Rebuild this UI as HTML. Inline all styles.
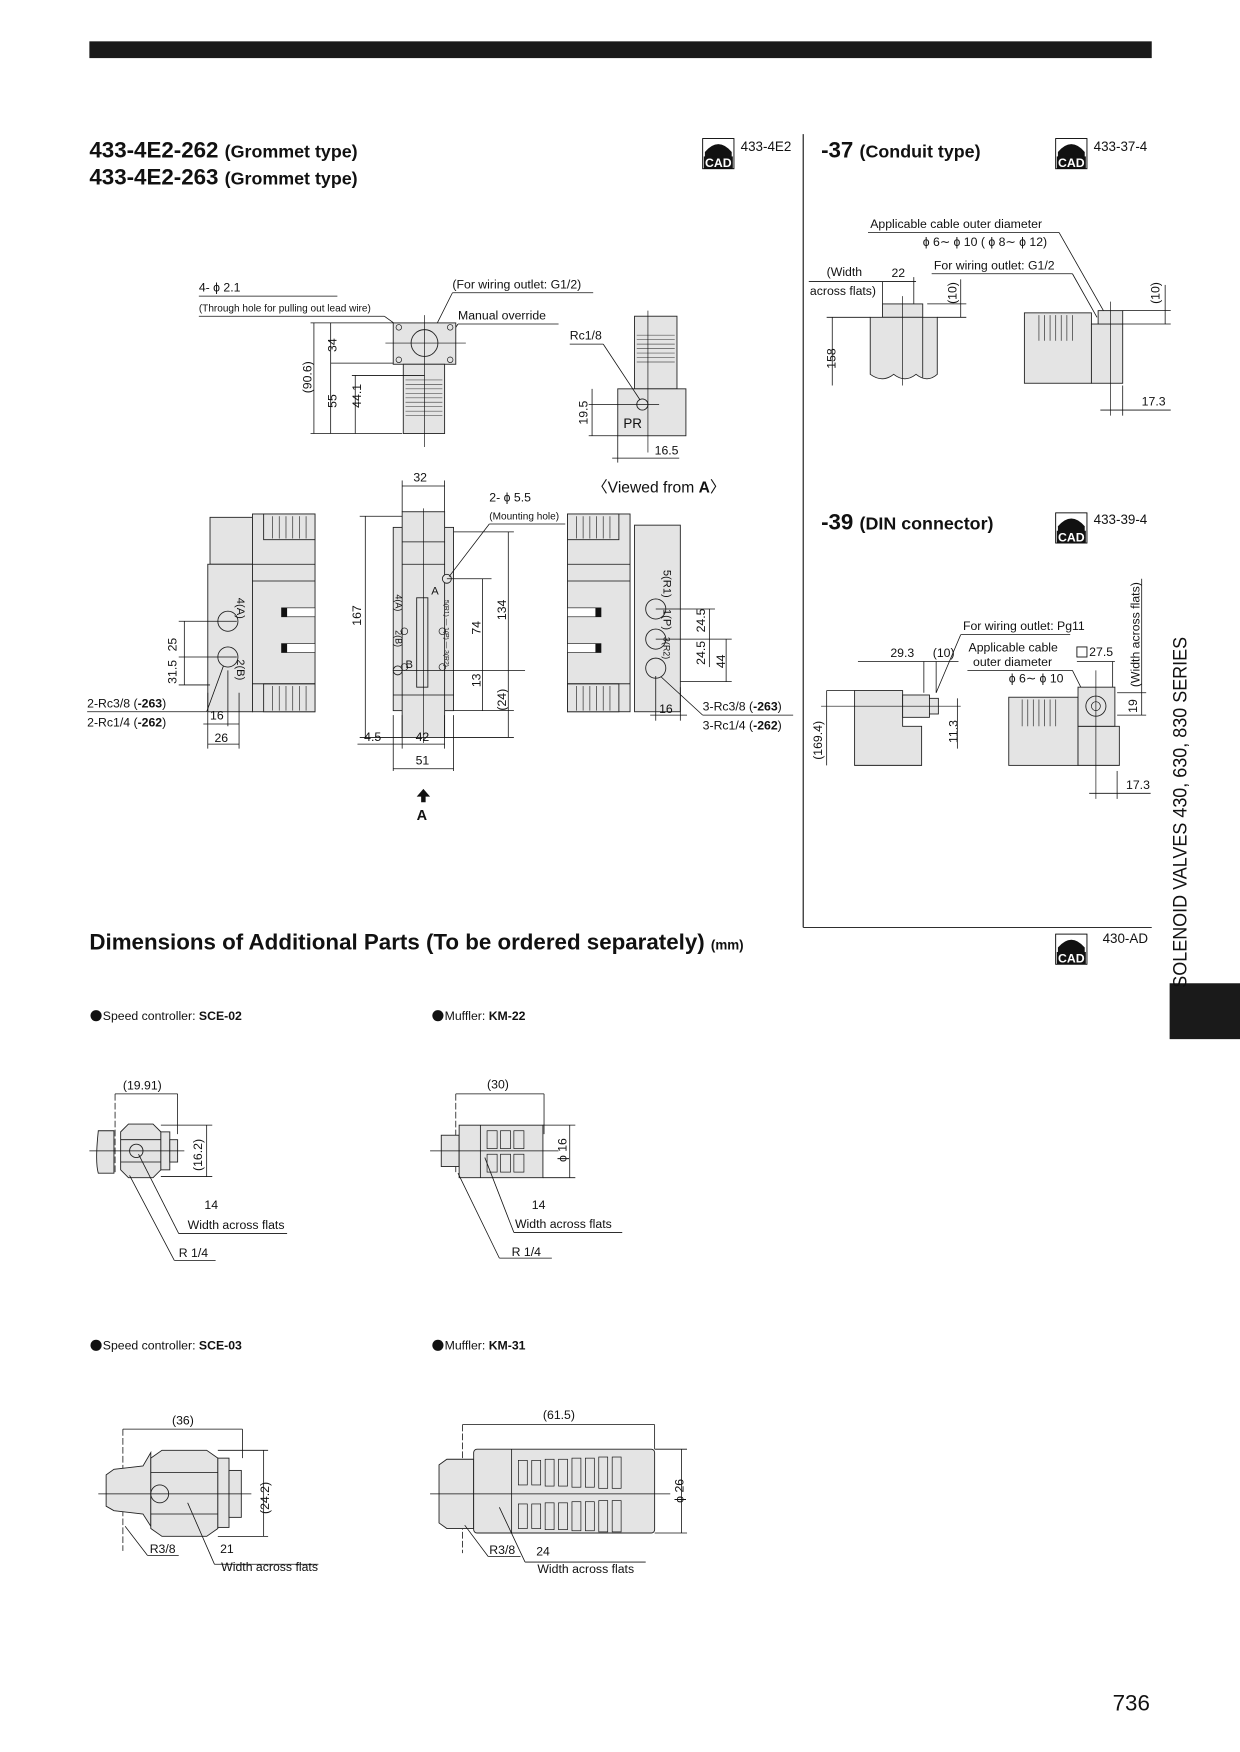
<!DOCTYPE html>
<html><head><meta charset="utf-8"><style>
html,body{margin:0;padding:0;background:#fff}
svg{display:block}
text{font-family:"Liberation Sans",sans-serif;fill:#111}
.b{font-weight:bold}
.s{font-size:11px}
.g{fill:#e4e4e4;stroke:#222;stroke-width:0.8}
.l{stroke:#111;stroke-width:0.7;fill:none}
.c{stroke:#111;stroke-width:0.6;fill:none}
</style></head><body>
<svg width="1240" height="1752" viewBox="0 0 1110 1568" preserveAspectRatio="none" xmlns="http://www.w3.org/2000/svg">
<defs>
<g id="cad"><rect x="0" y="0" width="28" height="27" fill="#fff" stroke="#000" stroke-width="0.8"/><path d="M2,18 L2,12 Q14,-2 26,12 L26,18 Z" fill="#111"/><rect x="1" y="16" width="26" height="11" fill="#111"/><text x="14" y="25.5" font-size="11" text-anchor="middle" font-weight="bold" style="fill:#fff">CAD</text></g>
</defs>
<rect x="80" y="37" width="951" height="15" fill="#1a1a1a"/>
<line x1="719" y1="120" x2="719" y2="830" stroke="#111" stroke-width="1"/>
<line x1="719" y1="830" x2="1031" y2="830" stroke="#111" stroke-width="0.8"/>
<rect x="1047" y="880" width="63" height="50" fill="#1a1a1a"/>
<text transform="translate(1062,884) rotate(-90)" font-size="17" textLength="314" lengthAdjust="spacingAndGlyphs">SOLENOID VALVES 430, 630, 830 SERIES</text>
<text x="996" y="1531" font-size="20">736</text>

<text x="80" y="141" font-size="20" class="b">433-4E2-262 <tspan font-size="16">(Grommet type)</tspan></text>
<text x="80" y="165" font-size="20" class="b">433-4E2-263 <tspan font-size="16">(Grommet type)</tspan></text>
<use href="#cad" x="629" y="124"/><text x="663" y="135" font-size="12">433-4E2</text>
<text x="735" y="141" font-size="20" class="b">-37 <tspan font-size="16">(Conduit type)</tspan></text>
<use href="#cad" x="945" y="124"/><text x="979" y="135" font-size="12">433-37-4</text>
<text x="735" y="474" font-size="20" class="b">-39 <tspan font-size="16">(DIN connector)</tspan></text>
<use href="#cad" x="945" y="459"/><text x="979" y="469" font-size="12">433-39-4</text>
<text x="80" y="850" font-size="20" class="b">Dimensions of Additional Parts (To be ordered separately) <tspan font-size="12">(mm)</tspan></text>
<use href="#cad" x="945" y="836"/><text x="987" y="844" font-size="12">430-AD</text>

<!-- top view -->
<text x="178" y="261" class="s">4- ϕ 2.1</text>
<text x="178" y="279" font-size="9">(Through hole for pulling out lead wire)</text>
<line x1="178" y1="265" x2="302" y2="265" class="l"/><line x1="178" y1="283" x2="344" y2="283" class="l"/>
<line x1="344" y1="283" x2="372" y2="303" class="l"/>
<text x="405" y="258" class="s">(For wiring outlet: G1/2)</text><line x1="405" y1="262" x2="531" y2="262" class="l"/><line x1="405" y1="262" x2="388" y2="296" class="l"/>
<text x="410" y="286" class="s">Manual override</text><line x1="410" y1="290" x2="500" y2="290" class="l"/><line x1="410" y1="290" x2="383" y2="330" class="l"/>
<rect x="352" y="289" width="56" height="37" class="g"/>
<circle cx="380" cy="307" r="12" class="g"/>
<circle cx="357" cy="293" r="2.5" class="c"/><circle cx="403" cy="293" r="2.5" class="c"/><circle cx="357" cy="322" r="2.5" class="c"/><circle cx="403" cy="322" r="2.5" class="c"/>
<rect x="361" y="326" width="37" height="62" class="g"/>
<g stroke="#555" stroke-width="0.6"><line x1="363" y1="340" x2="396" y2="340"/><line x1="363" y1="344" x2="396" y2="344"/><line x1="363" y1="348" x2="396" y2="348"/><line x1="363" y1="352" x2="396" y2="352"/><line x1="363" y1="356" x2="396" y2="356"/><line x1="363" y1="360" x2="396" y2="360"/><line x1="363" y1="364" x2="396" y2="364"/><line x1="363" y1="368" x2="396" y2="368"/><line x1="363" y1="372" x2="396" y2="372"/></g>
<line x1="380" y1="282" x2="380" y2="400" class="c"/><line x1="345" y1="307" x2="417" y2="307" class="c"/>
<line x1="281" y1="289" x2="281" y2="388" class="l"/><line x1="296" y1="289" x2="296" y2="388" class="l"/><line x1="318" y1="336" x2="318" y2="388" class="l"/>
<line x1="278" y1="289" x2="352" y2="289" class="l"/><line x1="278" y1="388" x2="360" y2="388" class="l"/><line x1="296" y1="325" x2="352" y2="325" class="l"/><line x1="315" y1="336" x2="380" y2="336" class="l"/>
<text transform="translate(279,352) rotate(-90)" class="s">(90.6)</text>
<text transform="translate(301,315) rotate(-90)" class="s">34</text>
<text transform="translate(301,365) rotate(-90)" class="s">55</text>
<text transform="translate(323,365) rotate(-90)" class="s">44.1</text>

<!-- side view PR -->
<rect x="568" y="283" width="38" height="65" class="g"/>
<g stroke="#555" stroke-width="0.6"><line x1="570" y1="300" x2="604" y2="300"/><line x1="570" y1="304" x2="604" y2="304"/><line x1="570" y1="308" x2="604" y2="308"/><line x1="570" y1="312" x2="604" y2="312"/><line x1="570" y1="316" x2="604" y2="316"/><line x1="570" y1="320" x2="604" y2="320"/><line x1="570" y1="324" x2="604" y2="324"/></g>
<rect x="553" y="348" width="61" height="42" class="g"/>
<circle cx="575" cy="362" r="5" class="g"/>
<text x="558" y="383" font-size="12">PR</text>
<line x1="580" y1="278" x2="580" y2="405" class="c"/><line x1="527" y1="362" x2="590" y2="362" class="c"/>
<text x="510" y="304" class="s">Rc1/8</text><line x1="510" y1="308" x2="540" y2="308" class="l"/><line x1="540" y1="308" x2="573" y2="358" class="l"/>
<line x1="530" y1="348" x2="530" y2="390" class="l"/><line x1="527" y1="390" x2="553" y2="390" class="l"/>
<text transform="translate(526,380) rotate(-90)" class="s">19.5</text>
<line x1="548" y1="410" x2="608" y2="410" class="l"/><line x1="553" y1="390" x2="553" y2="414" class="l"/>
<text x="586" y="407" class="s">16.5</text>
<text x="530" y="441" font-size="14">〈Viewed from <tspan class="b">A</tspan>〉</text>

<!-- left front view -->
<rect x="188" y="463" width="38" height="42" class="g"/>
<rect x="186" y="505" width="40" height="132" class="g"/>
<rect x="226" y="460" width="56" height="177" class="g"/>
<rect x="236" y="460" width="46" height="23" class="g"/><rect x="236" y="612" width="46" height="25" class="g"/>
<g stroke="#444" stroke-width="0.7"><line x1="244" y1="462" x2="244" y2="482"/><line x1="250" y1="462" x2="250" y2="482"/><line x1="256" y1="462" x2="256" y2="482"/><line x1="262" y1="462" x2="262" y2="482"/><line x1="268" y1="462" x2="268" y2="482"/><line x1="274" y1="462" x2="274" y2="482"/><line x1="244" y1="614" x2="244" y2="636"/><line x1="250" y1="614" x2="250" y2="636"/><line x1="256" y1="614" x2="256" y2="636"/><line x1="262" y1="614" x2="262" y2="636"/><line x1="268" y1="614" x2="268" y2="636"/><line x1="274" y1="614" x2="274" y2="636"/></g>
<line x1="226" y1="505" x2="282" y2="505" class="l"/><line x1="226" y1="520" x2="282" y2="520" class="l"/><line x1="226" y1="612" x2="282" y2="612" class="l"/>
<rect x="252" y="544" width="30" height="8" fill="#fff" stroke="#222" stroke-width="0.6"/><rect x="252" y="544" width="5" height="8" fill="#111"/>
<rect x="252" y="576" width="30" height="8" fill="#fff" stroke="#222" stroke-width="0.6"/><rect x="252" y="576" width="5" height="8" fill="#111"/>
<circle cx="204" cy="556" r="9" class="g" stroke-width="1.3"/><circle cx="204" cy="588" r="9" class="g" stroke-width="1.3"/>
<text transform="translate(212,535) rotate(90)" font-size="10">4(A)</text>
<text transform="translate(212,590) rotate(90)" font-size="10">2(B)</text>
<line x1="160" y1="556" x2="212" y2="556" class="l"/><line x1="160" y1="588" x2="212" y2="588" class="l"/><line x1="160" y1="613" x2="188" y2="613" class="l"/>
<line x1="165" y1="556" x2="165" y2="613" class="l"/>
<text transform="translate(158,583) rotate(-90)" class="s">25</text>
<text transform="translate(158,612) rotate(-90)" class="s">31.5</text>
<text x="78" y="633" class="s">2-Rc3/8 (<tspan class="b">-263</tspan>)</text><line x1="78" y1="637" x2="185" y2="637" class="l"/><line x1="185" y1="637" x2="200" y2="596" class="l"/>
<text x="78" y="650" class="s">2-Rc1/4 (<tspan class="b">-262</tspan>)</text>
<line x1="186" y1="620" x2="186" y2="670" class="l"/><line x1="204" y1="600" x2="204" y2="650" class="l"/><line x1="214" y1="620" x2="214" y2="670" class="l"/>
<line x1="182" y1="648" x2="214" y2="648" class="l"/><text x="188" y="644" class="s">16</text>
<line x1="186" y1="666" x2="214" y2="666" class="l"/><text x="192" y="664" class="s">26</text>

<!-- center view -->
<rect x="352" y="472" width="54" height="164" class="g"/>
<rect x="360" y="458" width="38" height="202" class="g"/>
<line x1="360" y1="485" x2="398" y2="485" class="l"/><line x1="360" y1="505" x2="398" y2="505" class="l"/><line x1="352" y1="622" x2="406" y2="622" class="l"/>
<rect x="373" y="535" width="10" height="80" class="g"/>
<circle cx="362" cy="565" r="3" class="c"/><circle cx="396" cy="565" r="3" class="c"/><circle cx="362" cy="597" r="3" class="c"/><circle cx="396" cy="597" r="3" class="c"/>
<circle cx="400" cy="518" r="4" class="g"/><circle cx="356" cy="600" r="4" class="g"/>
<text x="386" y="532" font-size="10">A</text><text x="363" y="598" font-size="10">B</text>
<text transform="translate(354,532) rotate(90)" font-size="8">4(A)</text><text transform="translate(354,564) rotate(90)" font-size="8">2(B)</text>
<text transform="translate(398,537) rotate(90)" font-size="6">5(R1) — 1(P) — 3(R2)</text>
<line x1="379" y1="455" x2="379" y2="665" class="c"/>
<line x1="360" y1="430" x2="360" y2="458" class="l"/><line x1="398" y1="430" x2="398" y2="458" class="l"/><line x1="360" y1="435" x2="398" y2="435" class="l"/><text x="370" y="431" class="s">32</text>
<line x1="322" y1="462" x2="360" y2="462" class="l"/><line x1="322" y1="660" x2="360" y2="660" class="l"/><line x1="327" y1="462" x2="327" y2="660" class="l"/>
<text transform="translate(323,560) rotate(-90)" class="s">167</text>
<text x="438" y="449" class="s">2- ϕ 5.5</text><text x="438" y="465" font-size="9">(Mounting hole)</text>
<line x1="438" y1="469" x2="506" y2="469" class="l"/><line x1="438" y1="469" x2="402" y2="516" class="l"/>
<line x1="400" y1="518" x2="440" y2="518" class="l"/><line x1="352" y1="600" x2="470" y2="600" class="l"/>
<line x1="432" y1="518" x2="432" y2="600" class="l"/><text transform="translate(430,568) rotate(-90)" class="s">74</text>
<line x1="406" y1="476" x2="460" y2="476" class="l"/><line x1="406" y1="636" x2="460" y2="636" class="l"/><line x1="455" y1="476" x2="455" y2="660" class="l"/>
<text transform="translate(453,555) rotate(-90)" class="s">134</text>
<line x1="432" y1="600" x2="432" y2="636" class="l"/><text transform="translate(430,615) rotate(-90)" class="s">13</text>
<line x1="398" y1="660" x2="460" y2="660" class="l"/><text transform="translate(453,636) rotate(-90)" class="s">(24)</text>
<line x1="352" y1="640" x2="352" y2="690" class="l"/><line x1="360" y1="640" x2="360" y2="670" class="l"/><line x1="406" y1="640" x2="406" y2="690" class="l"/><line x1="398" y1="640" x2="398" y2="670" class="l"/>
<line x1="320" y1="666" x2="360" y2="666" class="l"/><text x="326" y="663" class="s">4.5</text>
<line x1="360" y1="666" x2="398" y2="666" class="l"/><text x="372" y="663" class="s">42</text>
<line x1="352" y1="688" x2="406" y2="688" class="l"/><text x="372" y="684" class="s">51</text>
<path d="M379,706 L385,713 L381,713 L381,718 L377,718 L377,713 L373,713 Z" fill="#111"/>
<text x="373" y="734" font-size="13" class="b">A</text>

<!-- right view -->
<rect x="508" y="460" width="56" height="177" class="g"/>
<rect x="508" y="460" width="46" height="23" class="g"/><rect x="508" y="612" width="46" height="25" class="g"/>
<g stroke="#444" stroke-width="0.7"><line x1="516" y1="462" x2="516" y2="482"/><line x1="522" y1="462" x2="522" y2="482"/><line x1="528" y1="462" x2="528" y2="482"/><line x1="534" y1="462" x2="534" y2="482"/><line x1="540" y1="462" x2="540" y2="482"/><line x1="546" y1="462" x2="546" y2="482"/><line x1="516" y1="614" x2="516" y2="636"/><line x1="522" y1="614" x2="522" y2="636"/><line x1="528" y1="614" x2="528" y2="636"/><line x1="534" y1="614" x2="534" y2="636"/><line x1="540" y1="614" x2="540" y2="636"/><line x1="546" y1="614" x2="546" y2="636"/></g>
<line x1="508" y1="505" x2="564" y2="505" class="l"/><line x1="508" y1="520" x2="564" y2="520" class="l"/><line x1="508" y1="612" x2="564" y2="612" class="l"/>
<rect x="508" y="544" width="30" height="8" fill="#fff" stroke="#222" stroke-width="0.6"/><rect x="533" y="544" width="5" height="8" fill="#111"/>
<rect x="508" y="576" width="30" height="8" fill="#fff" stroke="#222" stroke-width="0.6"/><rect x="533" y="576" width="5" height="8" fill="#111"/>
<rect x="568" y="470" width="41" height="167" class="g"/>
<circle cx="587" cy="545" r="9" class="g" stroke-width="1.3"/><circle cx="587" cy="572" r="9" class="g" stroke-width="1.3"/><circle cx="587" cy="598" r="9" class="g" stroke-width="1.3"/>
<text transform="translate(594,510) rotate(90)" font-size="10">5(R1)</text><text transform="translate(594,545) rotate(90)" font-size="10">1(P)</text><text transform="translate(594,570) rotate(90)" font-size="8">3(R2)</text>
<line x1="587" y1="545" x2="640" y2="545" class="l"/><line x1="587" y1="572" x2="655" y2="572" class="l"/><line x1="609" y1="610" x2="655" y2="610" class="l"/>
<line x1="635" y1="545" x2="635" y2="597" class="l"/><line x1="650" y1="572" x2="650" y2="610" class="l"/>
<text transform="translate(631,566) rotate(-90)" class="s">24.5</text><text transform="translate(631,595) rotate(-90)" class="s">24.5</text><text transform="translate(649,598) rotate(-90)" class="s">44</text>
<line x1="587" y1="605" x2="587" y2="645" class="l"/><line x1="609" y1="615" x2="609" y2="645" class="l"/><line x1="582" y1="640" x2="615" y2="640" class="l"/><text x="590" y="638" class="s">16</text>
<text x="629" y="636" class="s">3-Rc3/8 (<tspan class="b">-263</tspan>)</text><line x1="629" y1="640" x2="710" y2="640" class="l"/><line x1="629" y1="640" x2="592" y2="606" class="l"/>
<text x="629" y="653" class="s">3-Rc1/4 (<tspan class="b">-262</tspan>)</text>

<!-- -37 -->
<text x="779" y="204" class="s">Applicable cable outer diameter</text><line x1="777" y1="208" x2="948" y2="208" class="l"/>
<text x="826" y="220" class="s">ϕ 6∼ ϕ 10 ( ϕ 8∼ ϕ 12)</text><line x1="948" y1="208" x2="990" y2="282" class="l"/>
<text x="836" y="241" class="s">For wiring outlet: G1/2</text><line x1="834" y1="245" x2="960" y2="245" class="l"/><line x1="960" y1="245" x2="982" y2="284" class="l"/>
<text x="740" y="247" class="s">(Width</text><text x="725" y="264" class="s">across flats)</text><line x1="724" y1="252" x2="790" y2="252" class="l"/><line x1="790" y1="252" x2="790" y2="272" class="l"/>
<text x="798" y="248" class="s">22</text><line x1="790" y1="252" x2="820" y2="252" class="l"/><line x1="818" y1="248" x2="818" y2="280" class="l"/>
<rect x="790" y="272" width="36" height="12" class="g"/>
<path d="M779,284 L839,284 L839,335 Q830,343 820,335 Q810,343 800,335 Q790,343 779,335 Z" class="g"/>
<line x1="826" y1="284" x2="826" y2="338" class="l"/>
<line x1="808" y1="265" x2="808" y2="345" class="c"/>
<line x1="740" y1="284" x2="779" y2="284" class="l"/><line x1="745" y1="284" x2="745" y2="345" class="l"/>
<text transform="translate(748,330) rotate(-90)" class="s">158</text>
<line x1="830" y1="272" x2="865" y2="272" class="l"/><line x1="860" y1="250" x2="860" y2="284" class="l"/><line x1="839" y1="284" x2="865" y2="284" class="l"/>
<text transform="translate(856,272) rotate(-90)" class="s">(10)</text>
<rect x="917" y="280" width="60" height="63" class="g"/>
<g stroke="#444" stroke-width="0.7"><line x1="930" y1="282" x2="930" y2="305"/><line x1="935" y1="282" x2="935" y2="305"/><line x1="940" y1="282" x2="940" y2="305"/><line x1="945" y1="282" x2="945" y2="305"/><line x1="950" y1="282" x2="950" y2="305"/><line x1="955" y1="282" x2="955" y2="305"/><line x1="960" y1="282" x2="960" y2="305"/></g>
<rect x="977" y="290" width="28" height="53" class="g"/><rect x="983" y="278" width="22" height="12" class="g"/>
<line x1="994" y1="270" x2="994" y2="372" class="c"/>
<line x1="1005" y1="278" x2="1048" y2="278" class="l"/><line x1="1005" y1="290" x2="1048" y2="290" class="l"/><line x1="1043" y1="255" x2="1043" y2="290" class="l"/>
<text transform="translate(1038,272) rotate(-90)" class="s">(10)</text>
<line x1="1005" y1="345" x2="1005" y2="372" class="l"/><line x1="985" y1="367" x2="1048" y2="367" class="l"/><text x="1022" y="363" class="s">17.3</text>

<!-- -39 -->
<text x="862" y="564" class="s">For wiring outlet: Pg11</text><line x1="860" y1="568" x2="958" y2="568" class="l"/><line x1="860" y1="568" x2="838" y2="620" class="l"/>
<text x="867" y="583" class="s">Applicable cable</text><text x="871" y="596" class="s">outer diameter</text>
<text x="903" y="611" class="s">ϕ 6∼ ϕ 10</text><line x1="866" y1="600" x2="960" y2="600" class="l"/><line x1="960" y1="600" x2="975" y2="630" class="l"/>
<rect x="964" y="579" width="9" height="9" fill="none" stroke="#111" stroke-width="0.8"/><text x="975" y="587" class="s">27.5</text>
<line x1="964" y1="592" x2="998" y2="592" class="l"/><line x1="996" y1="592" x2="996" y2="620" class="l"/>
<text transform="translate(1020,615) rotate(-90)" class="s">(Width across flats)</text>
<line x1="1022" y1="518" x2="1022" y2="640" class="l"/>
<line x1="1000" y1="620" x2="1026" y2="620" class="l"/><line x1="1000" y1="640" x2="1026" y2="640" class="l"/><text transform="translate(1018,638) rotate(-90)" class="s">19</text>
<text x="797" y="588" class="s">29.3</text><text x="835" y="588" class="s">(10)</text>
<line x1="768" y1="592" x2="858" y2="592" class="l"/><line x1="827" y1="592" x2="827" y2="620" class="l"/><line x1="838" y1="592" x2="838" y2="620" class="l"/>
<path d="M765,618 L808,618 L808,650 L825,650 L825,685 L765,685 L765,655 Z" class="g"/>
<rect x="808" y="622" width="24" height="20" class="g"/><rect x="832" y="625" width="8" height="14" class="g"/>
<line x1="735" y1="632" x2="860" y2="632" class="c"/>
<line x1="740" y1="618" x2="765" y2="618" class="l"/><line x1="740" y1="618" x2="740" y2="685" class="l"/>
<text transform="translate(736,680) rotate(-90)" class="s">(169.4)</text>
<line x1="857" y1="625" x2="857" y2="670" class="l"/><text transform="translate(857,665) rotate(-90)" class="s">11.3</text>
<rect x="903" y="624" width="62" height="61" class="g"/>
<g stroke="#444" stroke-width="0.7"><line x1="915" y1="626" x2="915" y2="650"/><line x1="920" y1="626" x2="920" y2="650"/><line x1="925" y1="626" x2="925" y2="650"/><line x1="930" y1="626" x2="930" y2="650"/><line x1="935" y1="626" x2="935" y2="650"/><line x1="940" y1="626" x2="940" y2="650"/><line x1="945" y1="626" x2="945" y2="650"/></g>
<path d="M965,650 L1002,650 L1002,685 L965,685 Z" class="g"/>
<rect x="965" y="615" width="33" height="35" class="g"/>
<circle cx="981" cy="632" r="9" class="g"/><circle cx="981" cy="632" r="4" class="c"/>
<line x1="981" y1="600" x2="981" y2="715" class="c"/>
<line x1="1000" y1="690" x2="1000" y2="715" class="l"/><line x1="975" y1="710" x2="1030" y2="710" class="l"/><text x="1008" y="706" class="s">17.3</text>

<!-- bottom parts -->
<circle cx="86" cy="909" r="5" fill="#111"/><text x="92" y="913" class="s">Speed controller: <tspan class="b">SCE-02</tspan></text>
<circle cx="392" cy="909" r="5" fill="#111"/><text x="398" y="913" class="s">Muffler: <tspan class="b">KM-22</tspan></text>
<circle cx="86" cy="1204" r="5" fill="#111"/><text x="92" y="1208" class="s">Speed controller: <tspan class="b">SCE-03</tspan></text>
<circle cx="392" cy="1204" r="5" fill="#111"/><text x="398" y="1208" class="s">Muffler: <tspan class="b">KM-31</tspan></text>

<!-- SCE-02 -->
<text x="110" y="975" class="s">(19.91)</text><line x1="103" y1="979" x2="159" y2="979" class="l"/><line x1="159" y1="979" x2="159" y2="1015" class="l"/>
<line x1="103" y1="979" x2="103" y2="1050" class="l" stroke-dasharray="6,2"/>
<path d="M88,1012 L102,1012 L102,1050 L88,1050 Q85,1040 88,1012 Z" class="g"/>
<path d="M108,1013 L115,1006 L137,1006 L144,1013 L144,1047 L137,1054 L115,1054 L108,1047 Z" class="g"/>
<line x1="108" y1="1020" x2="144" y2="1020" class="l"/><line x1="108" y1="1040" x2="144" y2="1040" class="l"/>
<circle cx="122" cy="1030" r="6" class="g"/>
<rect x="144" y="1013" width="8" height="34" class="g"/><rect x="152" y="1020" width="7" height="20" class="g"/>
<line x1="80" y1="1030" x2="165" y2="1030" class="c"/>
<line x1="144" y1="1007" x2="190" y2="1007" class="l"/><line x1="144" y1="1053" x2="190" y2="1053" class="l"/><line x1="185" y1="1007" x2="185" y2="1053" class="l"/>
<text transform="translate(181,1048) rotate(-90)" class="s">(16.2)</text>
<line x1="124" y1="1033" x2="160" y2="1104" class="l"/><line x1="160" y1="1104" x2="257" y2="1104" class="l"/>
<text x="183" y="1082" class="s">14</text><text x="168" y="1100" class="s">Width across flats</text>
<line x1="116" y1="1052" x2="156" y2="1128" class="l"/><line x1="156" y1="1128" x2="193" y2="1128" class="l"/><text x="160" y="1125" class="s">R 1/4</text>

<!-- KM-22 -->
<text x="436" y="974" class="s">(30)</text><line x1="408" y1="979" x2="487" y2="979" class="l"/><line x1="487" y1="979" x2="487" y2="1015" class="l"/>
<line x1="408" y1="979" x2="408" y2="1050" class="l" stroke-dasharray="6,2"/>
<rect x="395" y="1016" width="16" height="28" class="g"/>
<rect x="411" y="1007" width="75" height="47" class="g"/><line x1="430" y1="1007" x2="430" y2="1054" class="l"/>
<rect x="436" y="1012" width="9" height="16" class="c"/><rect x="448" y="1012" width="9" height="16" class="c"/><rect x="460" y="1012" width="9" height="16" class="c"/>
<rect x="436" y="1033" width="9" height="16" class="c"/><rect x="448" y="1033" width="9" height="16" class="c"/><rect x="460" y="1033" width="9" height="16" class="c"/>
<line x1="385" y1="1030" x2="500" y2="1030" class="c"/>
<line x1="486" y1="1007" x2="515" y2="1007" class="l"/><line x1="486" y1="1054" x2="515" y2="1054" class="l"/><line x1="510" y1="1007" x2="510" y2="1054" class="l"/>
<text transform="translate(507,1040) rotate(-90)" class="s">ϕ 16</text>
<line x1="434" y1="1036" x2="460" y2="1103" class="l"/><line x1="460" y1="1103" x2="557" y2="1103" class="l"/>
<text x="476" y="1082" class="s">14</text><text x="461" y="1099" class="s">Width across flats</text>
<line x1="410" y1="1050" x2="447" y2="1126" class="l"/><line x1="447" y1="1126" x2="494" y2="1126" class="l"/><text x="458" y="1124" class="s">R 1/4</text>

<!-- SCE-03 -->
<text x="154" y="1275" class="s">(36)</text><line x1="110" y1="1279" x2="217" y2="1279" class="l"/><line x1="217" y1="1279" x2="217" y2="1305" class="l"/>
<line x1="110" y1="1279" x2="110" y2="1388" class="l" stroke-dasharray="6,2"/>
<path d="M95,1320 L102,1315 L128,1312 L135,1300 L135,1366 L128,1355 L102,1352 L95,1348 Z" class="g"/>
<path d="M135,1305 L145,1298 L185,1298 L195,1305 L195,1368 L185,1375 L145,1375 L135,1368 Z" class="g"/>
<line x1="135" y1="1318" x2="195" y2="1318" class="l"/><line x1="135" y1="1355" x2="195" y2="1355" class="l"/>
<circle cx="143" cy="1337" r="8" class="g"/>
<rect x="195" y="1305" width="10" height="62" class="g"/><rect x="205" y="1316" width="11" height="42" class="g"/>
<line x1="88" y1="1337" x2="225" y2="1337" class="c"/>
<line x1="195" y1="1298" x2="240" y2="1298" class="l"/><line x1="195" y1="1375" x2="240" y2="1375" class="l"/><line x1="236" y1="1298" x2="236" y2="1375" class="l"/>
<text transform="translate(241,1355) rotate(-90)" class="s">(24.2)</text>
<line x1="168" y1="1345" x2="192" y2="1400" class="l"/><line x1="192" y1="1400" x2="285" y2="1400" class="l"/>
<text x="197" y="1390" class="s">21</text><text x="198" y="1406" class="s">Width across flats</text>
<line x1="112" y1="1366" x2="132" y2="1392" class="l"/><line x1="132" y1="1392" x2="160" y2="1392" class="l"/><text x="134" y="1390" class="s">R3/8</text>

<!-- KM-31 -->
<text x="486" y="1270" class="s">(61.5)</text><line x1="414" y1="1275" x2="586" y2="1275" class="l"/><line x1="586" y1="1275" x2="586" y2="1297" class="l"/>
<line x1="414" y1="1275" x2="414" y2="1390" class="l" stroke-dasharray="6,2"/>
<path d="M393,1311 L400,1306 L424,1306 L424,1368 L400,1368 L393,1363 Z" class="g"/>
<rect x="424" y="1297" width="162" height="75" rx="3" class="g"/><line x1="458" y1="1297" x2="458" y2="1372" class="l"/>
<g class="c">
<rect x="464" y="1307" width="8" height="22"/><rect x="476" y="1307" width="8" height="22"/><rect x="488" y="1306" width="8" height="24"/><rect x="500" y="1306" width="8" height="24"/><rect x="512" y="1305" width="8" height="26"/><rect x="524" y="1305" width="8" height="26"/><rect x="536" y="1304" width="8" height="28"/><rect x="548" y="1304" width="8" height="28"/>
<rect x="464" y="1346" width="8" height="22"/><rect x="476" y="1346" width="8" height="22"/><rect x="488" y="1345" width="8" height="24"/><rect x="500" y="1345" width="8" height="24"/><rect x="512" y="1344" width="8" height="26"/><rect x="524" y="1344" width="8" height="26"/><rect x="536" y="1343" width="8" height="28"/><rect x="548" y="1343" width="8" height="28"/>
</g>
<line x1="385" y1="1337" x2="600" y2="1337" class="c"/>
<line x1="586" y1="1297" x2="615" y2="1297" class="l"/><line x1="586" y1="1372" x2="615" y2="1372" class="l"/><line x1="610" y1="1297" x2="610" y2="1372" class="l"/>
<text transform="translate(612,1345) rotate(-90)" class="s">ϕ 26</text>
<line x1="447" y1="1349" x2="470" y2="1398" class="l"/><line x1="470" y1="1398" x2="578" y2="1398" class="l"/>
<text x="480" y="1392" class="s">24</text><text x="481" y="1408" class="s">Width across flats</text>
<line x1="416" y1="1365" x2="437" y2="1393" class="l"/><line x1="437" y1="1393" x2="466" y2="1393" class="l"/><text x="438" y="1391" class="s">R3/8</text>
</svg>
</body></html>
